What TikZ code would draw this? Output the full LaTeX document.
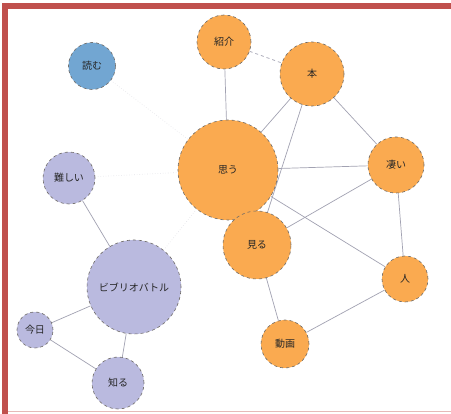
\documentclass[tikz,border=0pt]{standalone}
\usepackage{fontspec}
\usetikzlibrary{backgrounds}
\newfontfamily\cjk{Noto Sans CJK JP}
\definecolor{frame}{HTML}{C0504D}
\definecolor{orng}{HTML}{FAAA50}
\definecolor{lav}{HTML}{BABADF}
\definecolor{blu}{HTML}{72A6D2}
\definecolor{edg}{HTML}{A2A2B2}
\definecolor{bord}{HTML}{6E6A66}
\begin{document}
\begin{tikzpicture}[x=1pt,y=-1pt,
  wnode/.style={circle,draw=bord,dashed,line width=0.6pt,inner sep=0pt,font=\cjk\fontsize{10}{10}\selectfont,text=black!85},
  onode/.style={wnode,fill=orng},
  lnode/.style={wnode,fill=lav},
  bnode/.style={wnode,fill=blu},
  edge/.style={draw=edg,line width=0.7pt},
  faint/.style={draw=edg!30,line width=0.6pt,dotted}]
\useasboundingbox (0,0) rectangle (451,414);
% nodes
\node[bnode,minimum size=47pt] (yomu) at (92,66) {読む};
\node[onode,minimum size=54pt] (shokai) at (224,42) {紹介};
\node[onode,minimum size=64pt] (hon) at (312,74) {本};
\node[onode,minimum size=100pt] (omou) at (228,170) {思う};
\node[onode,minimum size=56pt] (sugoi) at (396,165) {凄い};
\node[lnode,minimum size=52pt] (muzu) at (69,178) {難しい};
\node[onode,minimum size=68pt] (miru) at (257,245) {見る};
\node[lnode,minimum size=94pt] (bib) at (134,287) {ビブリオバトル};
\node[onode,minimum size=46pt] (hito) at (405,279) {人};
\node[lnode,minimum size=36pt] (kyo) at (35,330) {今日};
\node[lnode,minimum size=52pt] (shiru) at (118,383) {知る};
\node[onode,minimum size=48pt] (doga) at (285,344) {動画};
\begin{scope}[on background layer]
\fill[white] (0,0) rectangle (451,414);
% frame
\fill[frame] (2,3) rectangle (451,9);
\fill[frame] (2,3) rectangle (8,414);
\draw[frame!40,line width=0.8pt] (8,411) -- (451,411);
% edges
\path[faint] (yomu) -- (omou);
\path[faint] (muzu) -- (omou);
\path[faint] (bib) -- (omou);
\path[edge,dashed] (shokai) -- (hon);
\path[edge] (shokai) -- (omou);
\path[edge] (hon) -- (omou);
\path[edge] (hon) -- (miru);
\path[edge] (hon) -- (sugoi);
\path[edge] (omou) -- (sugoi);
\path[edge] (omou) -- (hito);
\path[edge] (sugoi) -- (miru);
\path[edge] (sugoi) -- (hito);
\path[edge] (muzu) -- (bib);
\path[edge] (miru) -- (doga);
\path[edge] (hito) -- (doga);
\path[edge] (bib) -- (kyo);
\path[edge] (bib) -- (shiru);
\path[edge] (kyo) -- (shiru);
\end{scope}
\end{tikzpicture}
\end{document}
